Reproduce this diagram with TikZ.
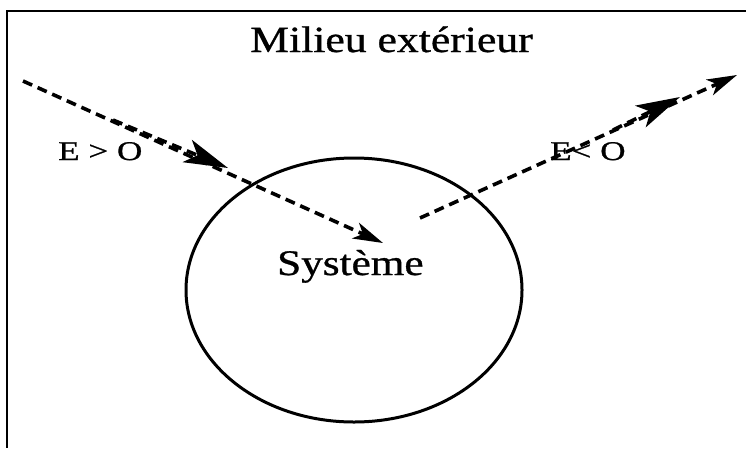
\documentclass[tikz,border=0pt]{standalone}
\usepackage{fontspec}
\setmainfont{Liberation Serif}[FakeBold=0.8]
\usetikzlibrary{arrows.meta,shapes.geometric}
\begin{document}
\begin{tikzpicture}[x=1pt,y=-1pt,
  frameline/.style={line width=2.4pt},
  flow/.style={line width=3.6pt,dash pattern=on 10pt off 6pt},
  endtip/.style={-{Stealth[length=30pt,width=17pt,inset=8pt]}},
  midtip/.style={-{Stealth[length=44pt,width=24pt,inset=11pt]}},
  lbl/.style={inner sep=0pt,anchor=base west}]
\useasboundingbox (0,0) rectangle (746,448);
\fill[white] (0,0) rectangle (746,448);
\draw[frameline] (746,11) -- (7,11) -- (7,448);
\node[draw,line width=3pt,ellipse,minimum width=336pt,minimum height=264pt,inner sep=0pt] (sys) at (354,290) {};
\node[lbl] (milieu) at (250,52) {\scalebox{1.18}[1]{\fontsize{37pt}{40pt}\selectfont Milieu extérieur}};
\node[lbl] (systeme) at (277,275) {\scalebox{1.2}[1]{\fontsize{36pt}{40pt}\selectfont Système}};
\node[lbl] (egt) at (58,160) {\scalebox{1.3}[1]{\fontsize{27pt}{30pt}\selectfont E > O}};
\node[lbl] (elt) at (550,160) {\scalebox{1.3}[1]{\fontsize{27pt}{30pt}\selectfont E< O}};
\coordinate (a1) at (23,81);
\coordinate (a2) at (383,243);
\coordinate (m1) at (113,120);
\coordinate (m2) at (228,168);
\coordinate (b1) at (420,218);
\coordinate (b2) at (737,75);
\coordinate (n1) at (613,130);
\coordinate (n2) at (680,97);
\draw[flow,endtip] (a1) -- (a2);
\draw[flow,midtip] (m1) -- (m2);
\draw[flow,endtip] (b1) -- (b2);
\draw[flow,midtip] (n1) -- (n2);
\end{tikzpicture}
\end{document}
